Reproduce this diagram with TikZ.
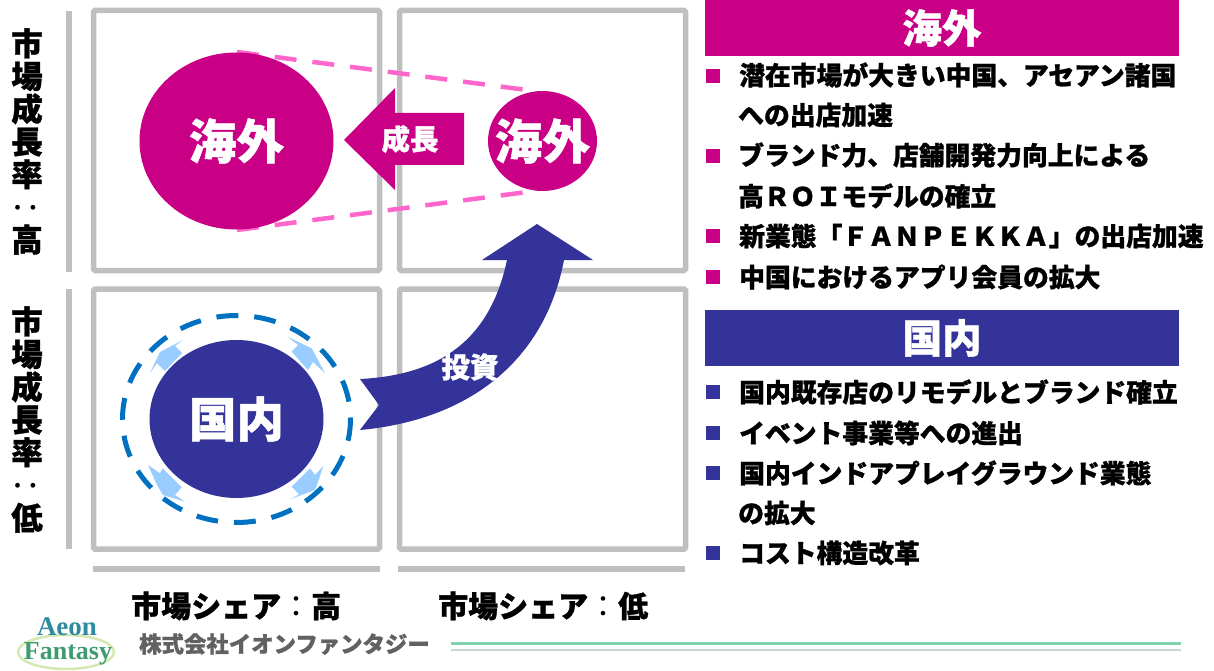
\documentclass[tikz,border=0pt]{standalone}
\usepackage{fontspec}
\usepackage{graphicx}
\setmainfont{Noto Sans CJK JP}[BoldFeatures={FakeBold=1}]
\newfontfamily\logofont{Liberation Serif}
\usetikzlibrary{shapes.geometric}
\definecolor{magentaA}{HTML}{C90085}
\definecolor{navyA}{HTML}{333399}
\definecolor{greyA}{HTML}{BFBFBF}
\definecolor{pinkA}{HTML}{FF66CC}
\definecolor{blueA}{HTML}{0070C0}
\definecolor{skyA}{HTML}{99CCFF}
\definecolor{logoTeal}{HTML}{2F8C9E}
\definecolor{logoGreen}{HTML}{3F9A72}
\definecolor{logoRing}{HTML}{D5E8B0}
\definecolor{lineA}{HTML}{7FD4B0}
\definecolor{lineB}{HTML}{C8D8D4}
\newcommand{\fs}[1]{\fontsize{#1}{#1}\selectfont\bfseries}
\newcommand{\centred}[2]{\raisebox{#1}{\makebox[0pt][c]{#2}}}
\newcommand{\thincolon}{{\mdseries ：}}
\tikzset{
  gridbox/.style={draw=greyA,line width=5.5pt,rounded corners=1.5pt},
  greybar/.style={fill=greyA,draw=none},
  blob/.style={ellipse,inner sep=0pt,text=white,font=\fs{47.5}},
  pinkdash/.style={draw=pinkA,line width=4.5pt,dash pattern=on 22pt off 16pt},
  bluedash/.style={draw=blueA,line width=5pt,dash pattern=on 21.9pt off 16pt},
  skyarrow/.style={fill=skyA,draw=none},
  head/.style={anchor=center,minimum width=474pt,minimum height=56pt,inner sep=0pt,text=white,font=\fs{39.5}},
  item/.style={anchor=west,inner sep=0pt,font=\fs{25.8},text=black},
  sq/.style={minimum size=14pt,inner sep=0pt},
  axisv/.style={align=center,inner sep=0pt,font=\fontsize{31.5}{32.7}\selectfont\bfseries},
  axish/.style={anchor=west,inner sep=0pt,font=\fs{30}}
}
\begin{document}
\begin{tikzpicture}[x=1pt,y=-1pt]
\useasboundingbox (0,0) rectangle (1214,671);
% grid
\draw[gridbox] (93.5,10.5) rectangle (379.5,270.5);
\draw[gridbox] (399.5,10.5) rectangle (685.5,270.5);
\draw[gridbox] (93.5,289) rectangle (379.5,549);
\draw[gridbox] (399.5,289) rectangle (685.5,549);
\fill[greybar] (66,11) rectangle (72,272);
\fill[greybar] (66,289) rectangle (72,549);
\fill[greybar] (93,566) rectangle (380,572);
\fill[greybar] (398,566) rectangle (685,572);
% axis labels
\node[axisv] (axA) at (27,141.5) {市\\場\\成\\長\\率\\\rotatebox[origin=c]{90}{\thincolon}\\高};
\node[axisv] (axB) at (27,419.5) {市\\場\\成\\長\\率\\\rotatebox[origin=c]{90}{\thincolon}\\低};
\node[axish] (axC) at (131,606) {市場シェア\thincolon 高};
\node[axish] (axD) at (438,606) {市場シェア\thincolon 低};
% dashed guides
\coordinate (pa) at (237,52);
\coordinate (pb) at (527,90);
\coordinate (pc) at (237,230);
\coordinate (pd) at (527,192);
\draw[pinkdash] (pa) -- (pb);
\draw[pinkdash] (pc) -- (pd);
% circles
\node[blob,fill=magentaA,minimum width=194pt,minimum height=177pt] (big) at (236.5,141) {\centred{-3.5pt}{海外}};
\node[blob,fill=magentaA,minimum width=109pt,minimum height=100pt] (small) at (542.5,141) {\centred{-3pt}{海外}};
\node[blob,fill=navyA,minimum width=174pt,minimum height=158pt] (home) at (236.5,419) {\centred{-4.5pt}{国内}};
\draw[bluedash] (236.5,419) ellipse [x radius=114,y radius=103.5];
% light arrows
\fill[skyarrow] (183,340)--(160,352)--(150,373)--(157,363)--(165,371)--(182,353)--(175,346)--cycle;
\fill[skyarrow] (287.3,336.7)--(311.7,348.3)--(325,373.3)--(313,362)--(308,370)--(291.7,351.7)--(298,345)--cycle;
\fill[skyarrow] (148,465)--(160,473.3)--(162.7,468.3)--(181.7,487.3)--(175,495)--(185,501.7)--(163,495)--(157,485)--cycle;
\fill[skyarrow] (323.3,466)--(315,475)--(310,468.3)--(291.7,486.7)--(299.3,494.3)--(290,499.3)--(315,490)--(318,482)--cycle;
% growth arrow
\fill[magentaA] (344,140)--(395,88)--(395,113)--(464,113)--(464,165)--(395,165)--(395,190)--cycle;
\node[inner sep=0pt,text=white,font=\fs{28.5}] (grow) at (410,139) {成長};
% invest arrow
\fill[navyA] (360,379) .. controls (440,375) and (490,340) .. (507,260)
  -- (482,260) -- (537,224) -- (593,260) -- (564,260)
  .. controls (545,360) and (470,420) .. (360,430)
  -- (379,405) -- cycle;
\node[inner sep=0pt,text=white,font=\fs{28.5}] (invest) at (470,367) {投資};
% right panel
\node[head,fill=magentaA] (hA) at (942,28) {\raisebox{-3.5pt}{海外}};
\node[head,fill=navyA] (hB) at (942,338) {\raisebox{-3.5pt}{国内}};
\foreach \y in {76,156,236,277} \node[sq,fill=magentaA] at (713,\y) {};
\foreach \y in {392,433,473,553} \node[sq,fill=navyA] at (713,\y) {};
\node[item] (a1) at (739,75) {潜在市場が大きい中国、アセアン諸国};
\node[item] (a2) at (738,115) {への出店加速};
\node[item] (a3) at (738,155) {ブランド力、店舗開発力向上による};
\node[item] (a4) at (738,196) {高ＲＯＩモデルの確立};
\node[item] (a5) at (739,236) {新業態「ＦＡＮＰＥＫＫＡ」の出店加速};
\node[item] (a6) at (739,277) {中国におけるアプリ会員の拡大};
\node[item] (b1) at (739,392) {国内既存店のリモデルとブランド確立};
\node[item] (b2) at (739,433) {イベント事業等への進出};
\node[item] (b3) at (739,473) {国内インドアプレイグラウンド業態};
\node[item] (b4) at (738,513) {の拡大};
\node[item] (b5) at (739,553) {コスト構造改革};
% footer
\draw[draw=logoRing,line width=2.5pt] (66,652) ellipse [x radius=48,y radius=17];
\node[inner sep=0pt,text=logoTeal,font=\logofont\bfseries\fontsize{27}{27}\selectfont] (logoA) at (67,627) {Aeon};
\node[inner sep=0pt,text=logoGreen,font=\logofont\bfseries\fontsize{26}{26}\selectfont] (logoB) at (68,654) {Fantasy};
\node[anchor=west,inner sep=0pt,text=black!62,font=\fs{22.4}] (co) at (139,644) {株式会社イオンファンタジー};
\coordinate (la) at (451,643);
\coordinate (lb) at (1181,643);
\coordinate (lc) at (451,650);
\coordinate (ld) at (1181,650);
\draw[draw=lineA,line width=3pt] (la) -- (lb);
\draw[draw=lineB,line width=2.5pt] (lc) -- (ld);
\end{tikzpicture}
\end{document}
